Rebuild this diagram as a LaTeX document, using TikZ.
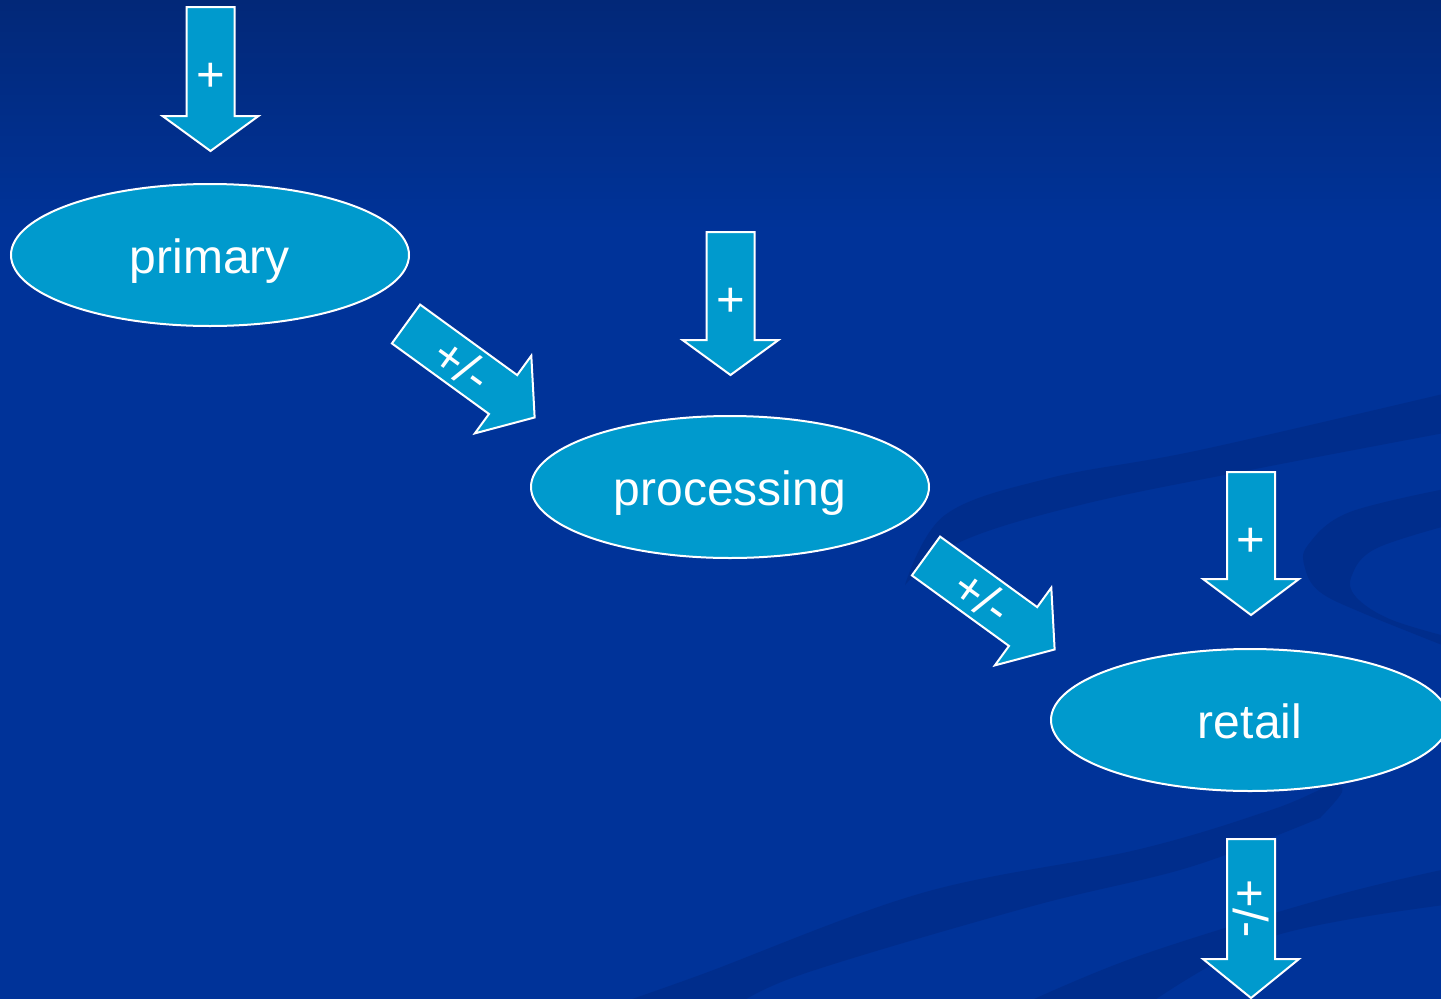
\documentclass[tikz,border=0pt]{standalone}
\usepackage{fontspec}
\setmainfont{Liberation Sans}
\usetikzlibrary{shapes.geometric}
\definecolor{bgtop}{RGB}{2,40,120}
\definecolor{bgmid}{RGB}{0,51,153}
\definecolor{band}{RGB}{0,45,140}
\definecolor{boxfill}{RGB}{0,154,205}
\tikzset{
  stage/.style={ellipse, fill=boxfill, draw=white, line width=2pt,
    minimum width=398pt, minimum height=142pt, inner sep=0pt, text=white,
    font=\fontsize{48}{50}\selectfont, text height=36pt, text depth=0pt},
  barrowstyle/.style={fill=boxfill, draw=white, line width=2pt, line join=miter},
  lbl/.style={text=white, font=\fontsize{49}{50}\selectfont, inner sep=0pt},
  swoosh/.style={fill=band}
}
% #1 name, #2 x, #3 y (tail centre), #4 direction, #5 shaft length, #6 head length, #7 label rotation, #8 label
\newcommand\blockarrow[8]{%
  \begin{scope}[shift={(#2,#3)}, rotate=#4]
    \draw[barrowstyle] (0,24) -- (#5,24) -- (#5,48) -- ({#5+#6},0) -- (#5,-48) -- (#5,-24) -- (0,-24) -- cycle;
    \node[lbl, rotate=#7] (#1) at (70,0) {#8};
  \end{scope}}
\begin{document}
\begin{tikzpicture}[x=1pt,y=-1pt]
\useasboundingbox (0,0) rectangle (1441,999);
\fill[top color=bgtop, bottom color=bgmid] (0,0) rectangle (1441,230);
\fill[bgmid] (0,229) rectangle (1441,999);
\begin{scope}
  \clip (0,0) rectangle (1441,999);
  % background swooshes
  \fill[swoosh] plot[smooth, tension=0.6] coordinates {(905,585) (945,515) (1050,478) (1200,450) (1460,390)}
     -- plot[smooth, tension=0.6] coordinates {(1460,430) (1250,470) (1080,505) (960,542) (905,585)} -- cycle;
  \fill[swoosh] plot[smooth, tension=0.6] coordinates {(1460,486) (1350,512) (1308,545) (1305,568) (1320,592) (1365,614) (1460,652)}
     -- plot[smooth, tension=0.6] coordinates {(1460,640) (1392,620) (1356,597) (1352,575) (1377,548) (1460,522)} -- cycle;
  \fill[swoosh] plot[smooth, tension=0.6] coordinates {(600,1010) (700,975) (922,893) (1136,850) (1271,810) (1330,786) (1342,792) (1320,818)}
     -- plot[smooth, tension=0.6] coordinates {(1320,818) (1190,867) (1029,907) (800,975) (730,1010)} -- cycle;
  \fill[swoosh] plot[smooth, tension=0.6] coordinates {(1010,1010) (1136,957) (1330,897) (1460,866)}
     -- plot[smooth, tension=0.6] coordinates {(1460,903) (1271,937) (1140,1010)} -- cycle;
  % stages
  \node[stage] (primary) at (210,255) {primary};
  \node[stage] (processing) at (730,487) {processing};
  \node[stage] (retail) at (1250,720) {retail};
  % block arrows
  \blockarrow{inA}{210.5}{7}{-90}{109}{35}{0}{+}
  \blockarrow{inB}{730.5}{232}{-90}{108}{35}{0}{+}
  \blockarrow{inC}{1251}{472}{-90}{107}{36}{0}{+}
  \blockarrow{out}{1251}{839}{-90}{120}{39}{-90}{+/-}
  \blockarrow{flowA}{406}{324}{-36}{120}{39}{-36}{+/-}
  \blockarrow{flowB}{926}{556}{-36}{120}{39}{-36}{+/-}
\end{scope}
\end{tikzpicture}
\end{document}
